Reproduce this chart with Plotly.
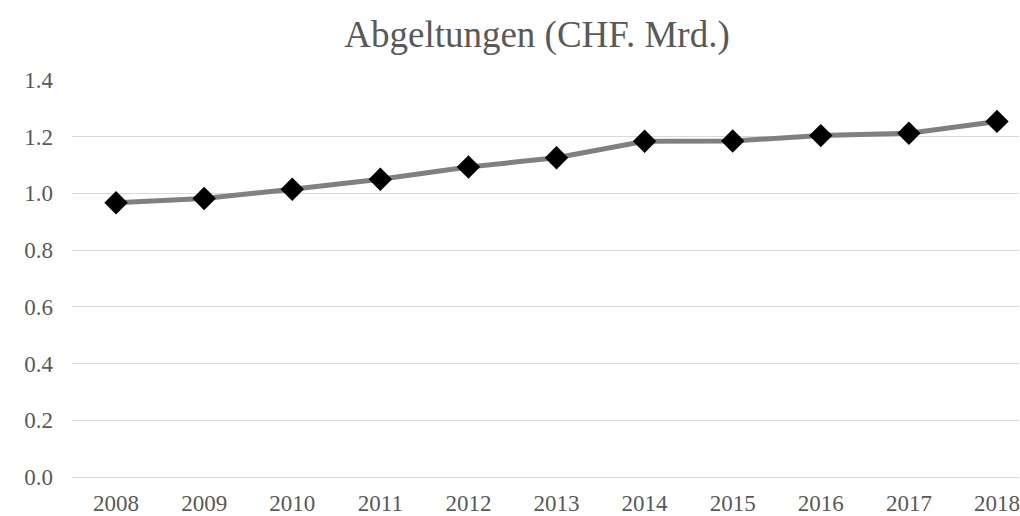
import plotly.graph_objects as go

years = ["2008", "2009", "2010", "2011", "2012", "2013", "2014", "2015", "2016", "2017", "2018"]
values = [0.967, 0.982, 1.015, 1.050, 1.093, 1.126, 1.184, 1.185, 1.204, 1.212, 1.254]
y_ticks = [0.0, 0.2, 0.4, 0.6, 0.8, 1.0, 1.2, 1.4]
title_text = "Abgeltungen (CHF. Mrd.)"

font_family = "Liberation Serif, Times New Roman, serif"

fig = go.Figure()
fig.add_trace(go.Scatter(
    x=years, y=values, mode="lines+markers",
    line=dict(color="#808080", width=5),
    marker=dict(symbol="diamond", size=18, color="#000000"),
    showlegend=False,
))

fig.update_layout(
    width=1020, height=516,
    margin=dict(l=72, r=0, t=80, b=37),
    paper_bgcolor="white", plot_bgcolor="white",
    font=dict(family=font_family, color="#595959", size=23),
    title=dict(text=title_text, x=537/1020, xanchor="center", y=1 - 34/516, yanchor="middle",
               font=dict(family=font_family, size=37, color="#595959")),
)
fig.update_xaxes(
    type="category", range=[-0.5, 10.25],
    showgrid=False, showline=False, zeroline=False, ticks="",
    tickfont=dict(family=font_family, size=23, color="#595959"),
    ticklabelstandoff=10,
)
fig.update_yaxes(
    range=[0, 1.4], tickvals=y_ticks, ticktext=[f"{v:.1f}" for v in y_ticks],
    showgrid=True, gridcolor="#d9d9d9", gridwidth=1,
    zeroline=True, zerolinecolor="#d9d9d9", zerolinewidth=1,
    showline=False, ticks="",
    tickfont=dict(family=font_family, size=23, color="#595959"),
    ticklabelstandoff=18,
)

fig.write_html("out.html", config={"displayModeBar": False},
               post_script="document.body.style.margin='0';")
